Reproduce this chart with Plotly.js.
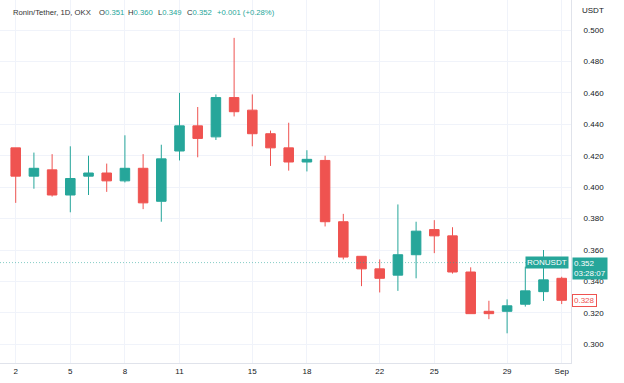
<!DOCTYPE html>
<html>
<head>
<meta charset="utf-8">
<script src="https://cdn.plot.ly/plotly-3.0.1.min.js"></script>
<style>
html,body{margin:0;padding:0;background:#fff;}
#chart{width:624px;height:383px;}
</style>
</head>
<body>
<div id="chart"></div>
<script>
const dates = ["2023-08-02","2023-08-03","2023-08-04","2023-08-05","2023-08-06","2023-08-07","2023-08-08","2023-08-09","2023-08-10","2023-08-11","2023-08-12","2023-08-13","2023-08-14","2023-08-15","2023-08-16","2023-08-17","2023-08-18","2023-08-19","2023-08-20","2023-08-21","2023-08-22","2023-08-23","2023-08-24","2023-08-25","2023-08-26","2023-08-27","2023-08-28","2023-08-29","2023-08-30","2023-08-31","2023-09-01"];
const openP  = [0.425,0.407,0.411,0.395,0.407,0.409,0.404,0.412,0.391,0.423,0.439,0.432,0.457,0.449,0.434,0.425,0.416,0.417,0.378,0.356,0.348,0.344,0.357,0.373,0.369,0.346,0.321,0.321,0.3255,0.3335,0.342];
const highP  = [0.425,0.422,0.421,0.426,0.420,0.415,0.433,0.421,0.427,0.460,0.451,0.459,0.495,0.459,0.436,0.441,0.4235,0.420,0.383,0.356,0.354,0.389,0.378,0.379,0.3745,0.349,0.3277,0.3286,0.3494,0.360,0.343];
const lowP   = [0.390,0.399,0.394,0.384,0.395,0.397,0.403,0.386,0.378,0.417,0.419,0.430,0.445,0.426,0.4135,0.4105,0.410,0.375,0.354,0.337,0.333,0.334,0.342,0.358,0.345,0.3195,0.316,0.307,0.324,0.3276,0.3256];
const closeP = [0.407,0.412,0.395,0.4055,0.409,0.404,0.412,0.390,0.418,0.439,0.431,0.457,0.448,0.434,0.425,0.416,0.4177,0.378,0.3555,0.348,0.342,0.357,0.372,0.369,0.346,0.3195,0.3195,0.3245,0.334,0.341,0.328];
const xTickVals = ["2023-08-02","2023-08-05","2023-08-08","2023-08-11","2023-08-15","2023-08-18","2023-08-22","2023-08-25","2023-08-29","2023-09-01"];
const xTickText = ["2","5","8","11","15","18","22","25","29","Sep"];
const yTickVals = [0.30,0.32,0.34,0.36,0.38,0.40,0.42,0.44,0.46,0.48,0.50];
const lastPrice = 0.352;
const closeMark = 0.328;

const UP = "#26a69a", DOWN = "#ef5350";
const FONT = "Liberation Sans, Arial, sans-serif";
const TXT = "#131722";
const PW = 571, PH = 363;
const px = v => v / PW;
const py = v => 1 - v / PH;

const trace = {
  type: "candlestick",
  x: dates, open: openP, high: highP, low: lowP, close: closeP,
  increasing: {line: {color: UP, width: 1}, fillcolor: UP},
  decreasing: {line: {color: DOWN, width: 1}, fillcolor: DOWN},
  whiskerwidth: 0,
  hoverinfo: "skip"
};

const hdrFont = {family: FONT, size: 7.7, color: "#333333"};
const valFont = {family: FONT, size: 7.7, color: UP};
function ann(x, y, text, font, extra) {
  return Object.assign({xref: "paper", yref: "paper", x: px(x), y: py(y), text: text, showarrow: false,
    xanchor: "left", yanchor: "middle", font: font, borderpad: 0}, extra || {});
}

const annotations = [
  ann(12, 12, "Ronin/Tether, 1D, OKX", hdrFont),
  ann(98, 12, "O<span style='color:" + UP + "'>0.351</span>", hdrFont),
  ann(127, 12, "H<span style='color:" + UP + "'>0.360</span>", hdrFont),
  ann(157, 12, "L<span style='color:" + UP + "'>0.349</span>", hdrFont),
  ann(186, 12, "C<span style='color:" + UP + "'>0.352</span>", hdrFont),
  ann(216, 12, "+0.001 (+0.28%)", valFont),
  ann(581, 11, "USDT", {family: FONT, size: 8, color: TXT}),
  {xref: "paper", yref: "y", x: px(569), y: lastPrice, text: "RONUSDT", showarrow: false,
   xanchor: "right", yanchor: "middle", bgcolor: UP, borderpad: 1,
   font: {family: FONT, size: 8, color: "#ffffff"}},
  {xref: "paper", yref: "paper", x: px(572), y: py(256.5), text: "0.352<br>03:28:07", showarrow: false,
   xanchor: "left", yanchor: "top", align: "left", bgcolor: UP, borderpad: 1,
   font: {family: FONT, size: 8, color: "#ffffff"}},
  {xref: "paper", yref: "y", x: px(572), y: closeMark, text: "0.328", showarrow: false,
   xanchor: "left", yanchor: "middle", bgcolor: "#ffffff", bordercolor: DOWN, borderwidth: 1, borderpad: 1,
   font: {family: FONT, size: 8, color: DOWN}}
];

const layout = {
  width: 624, height: 383,
  margin: {l: 0, r: 53, t: 0, b: 20, pad: 0},
  paper_bgcolor: "#ffffff", plot_bgcolor: "#ffffff",
  showlegend: false,
  boxgap: 0.25,
  xaxis: {
    type: "date",
    range: ["2023-08-01 03:17", "2023-09-01 12:16"],
    rangeslider: {visible: false},
    tickvals: xTickVals, ticktext: xTickText,
    tickfont: {family: FONT, size: 8, color: TXT},
    ticks: "", showgrid: true, gridcolor: "#f0f3fa", gridwidth: 1,
    showline: true, linecolor: "#e0e3eb", linewidth: 1, mirror: false,
    zeroline: false, fixedrange: true
  },
  yaxis: {
    side: "right",
    range: [0.2881, 0.51909],
    tickvals: yTickVals, tickformat: ".3f",
    tickfont: {family: FONT, size: 8, color: TXT},
    ticks: "", ticklabelstandoff: 10,
    showgrid: true, gridcolor: "#f0f3fa", gridwidth: 1,
    showline: true, linecolor: "#e0e3eb", linewidth: 1,
    zeroline: false, fixedrange: true
  },
  shapes: [
    {type: "line", xref: "paper", yref: "y", x0: 0, x1: px(528), y0: lastPrice, y1: lastPrice,
     line: {color: UP, width: 1, dash: "1px,2px"}, opacity: 0.55}
  ],
  annotations: annotations
};

Plotly.newPlot("chart", [trace], layout, {staticPlot: true, displayModeBar: false});
</script>
</body>
</html>
